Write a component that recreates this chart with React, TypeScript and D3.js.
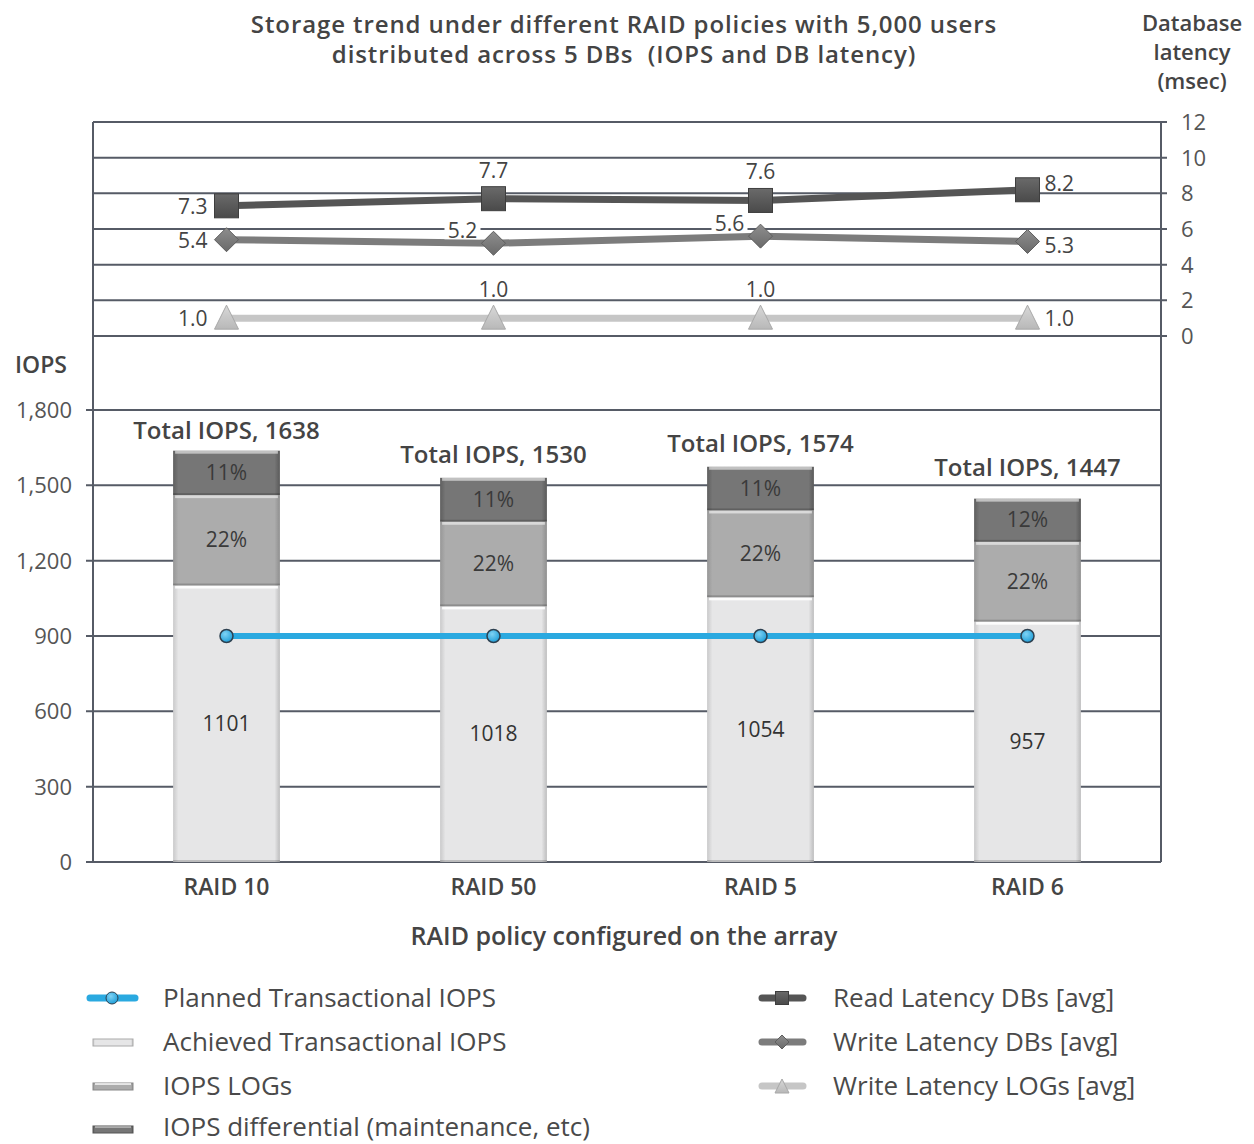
import React from "react";
import * as d3 from "d3";

const categories = ["RAID 10", "RAID 50", "RAID 5", "RAID 6"];
const achieved = [1101, 1018, 1054, 957];
const logsIops = [360, 337, 346, 318];
const differential = [177, 175, 174, 172];
const totals = [1638, 1530, 1574, 1447];
const logsPct = ["22%", "22%", "22%", "22%"];
const diffPct = ["11%", "11%", "11%", "12%"];
const planned = [900, 900, 900, 900];
const readLat = [7.3, 7.7, 7.6, 8.2];
const writeDbLat = [5.4, 5.2, 5.6, 5.3];
const writeLogLat = [1.0, 1.0, 1.0, 1.0];
const iopsTicks = [0, 300, 600, 900, 1200, 1500, 1800];
const latTicks = [0, 2, 4, 6, 8, 10, 12];
const readPlace = ["left", "above", "above", "rightUp"];
const writeDbPlace = ["left", "aboveLeft", "aboveLeft", "rightDown"];
const writeLogPlace = ["left", "above", "above", "right"];
const totalLabelGap = [12, 15, 15, 23];

const FONT = "'Open Sans', Lato, sans-serif";
const TXT = "#444";
const GRID = "#565b66";

export default function App() {
  const L = 93, R = 1161;
  const x = d3.scaleBand<string>().domain(categories).range([L, R]).padding(0);
  const cx = (c: string) => (x(c) as number) + x.bandwidth() / 2;
  const bw = x.bandwidth() * 0.4;
  const yI = d3.scaleLinear().domain([0, 1800]).range([862, 410]);
  const yL = d3.scaleLinear().domain([0, 12]).range([336, 122]);

  const stackData = categories.map((c, i) => ({ c, a: achieved[i], l: logsIops[i], d: differential[i] }));
  const stack = d3.stack<any>().keys(["a", "l", "d"])(stackData);
  const fills: Record<string, string> = { a: "url(#gA)", l: "url(#gL)", d: "url(#gD)" };

  const lineGen = (yv: (v: number) => number) =>
    d3.line<number>().x((_, i) => cx(categories[i])).y((v) => yv(v));

  const labelPos = (place: string, px: number, py: number) => {
    if (place === "left") return { x: px - 19, y: py + 8, anchor: "end" };
    if (place === "right") return { x: px + 17, y: py + 8, anchor: "start" };
    if (place === "rightUp") return { x: px + 17, y: py + 1, anchor: "start" };
    if (place === "rightDown") return { x: px + 17, y: py + 12, anchor: "start" };
    if (place === "aboveLeft") return { x: px - 31, y: py - 5, anchor: "middle" };
    return { x: px, y: py - 21, anchor: "middle" };
  };

  const latLabels = (vals: number[], places: string[], key: string) =>
    vals.map((v, i) => {
      const px = cx(categories[i]);
      const py = yL(v);
      const p = labelPos(places[i], px, py);
      const t = v.toFixed(1);
      const w = t.length * 10;
      const bx = p.anchor === "end" ? p.x - w : p.anchor === "start" ? p.x : p.x - w / 2;
      return (
        <g key={key + i}>
          <rect x={bx - 3} y={p.y - 16} width={w + 6} height={17} fill="#fff" />
          <text x={p.x} y={p.y} textAnchor={p.anchor} fontSize={21} fill={TXT} fontFamily={FONT}>
            {t}
          </text>
        </g>
      );
    });

  const square = (px: number, py: number, k: string, s = 24) => (
    <g key={k}>
      <rect x={px - s / 2} y={py - s / 2} width={s} height={s} fill="url(#gSq)" stroke="#3e3e3e" strokeWidth={1} />
    </g>
  );
  const diamond = (px: number, py: number, k: string, s = 12) => (
    <path key={k} d={`M${px},${py - s}L${px + s},${py}L${px},${py + s}L${px - s},${py}Z`} fill="url(#gDi)" stroke="#5e5e5e" strokeWidth={1} />
  );
  const triangle = (px: number, py: number, k: string, s = 12) => (
    <path key={k} d={`M${px},${py - s - 1}L${px + s},${py + s - 1}L${px - s},${py + s - 1}Z`} fill="url(#gTr)" stroke="#a8a8a8" strokeWidth={1} />
  );

  return (
    <div style={{ position: "absolute", left: 0, top: 0 }}>
      <svg width={1254} height={1144} style={{ display: "block", background: "#fff" }}>
        <defs>
          <linearGradient id="gA" x1="0" x2="1" y1="0" y2="0">
            <stop offset="0" stopColor="#c9c9ca" />
            <stop offset="0.05" stopColor="#e6e6e7" />
            <stop offset="0.95" stopColor="#e6e6e7" />
            <stop offset="1" stopColor="#bdbdbe" />
          </linearGradient>
          <linearGradient id="gL" x1="0" x2="1" y1="0" y2="0">
            <stop offset="0" stopColor="#979797" />
            <stop offset="0.05" stopColor="#acacac" />
            <stop offset="0.95" stopColor="#acacac" />
            <stop offset="1" stopColor="#8f8f8f" />
          </linearGradient>
          <linearGradient id="gD" x1="0" x2="1" y1="0" y2="0">
            <stop offset="0" stopColor="#5f5f5f" />
            <stop offset="0.05" stopColor="#767676" />
            <stop offset="0.95" stopColor="#767676" />
            <stop offset="1" stopColor="#5a5a5a" />
          </linearGradient>
          <linearGradient id="gSq" x1="0" x2="0" y1="0" y2="1">
            <stop offset="0" stopColor="#6a6a6a" />
            <stop offset="1" stopColor="#4a4a4a" />
          </linearGradient>
          <linearGradient id="gDi" x1="0" x2="0" y1="0" y2="1">
            <stop offset="0" stopColor="#8e8e8e" />
            <stop offset="1" stopColor="#6a6a6a" />
          </linearGradient>
          <linearGradient id="gTr" x1="0" x2="0" y1="0" y2="1">
            <stop offset="0" stopColor="#d8d8d8" />
            <stop offset="1" stopColor="#b8b8b8" />
          </linearGradient>
          <radialGradient id="gDot" cx="0.4" cy="0.35" r="0.7">
            <stop offset="0" stopColor="#7fd3f5" />
            <stop offset="1" stopColor="#1a9bd6" />
          </radialGradient>
        </defs>

        {/* Title */}
        <g fontFamily={FONT} fontWeight={600} fill={TXT} textAnchor="middle">
          <text x={624} y={33} fontSize={24} letterSpacing={0.9}>
            Storage trend under different RAID policies with 5,000 users
          </text>
          <text x={624} y={63} fontSize={24} letterSpacing={0.9} style={{ whiteSpace: "pre" }}>
            {"distributed across 5 DBs  (IOPS and DB latency)"}
          </text>
          {["Database", "latency", "(msec)"].map((t, i) => (
            <text key={t} x={1192} y={31 + i * 29} fontSize={22}>
              {t}
            </text>
          ))}
        </g>

        {/* Latency panel grid */}
        {latTicks.map((t) => (
          <g key={"lt" + t}>
            <line x1={L} x2={R + 6} y1={yL(t)} y2={yL(t)} stroke={GRID} strokeWidth={2} />
            <text x={1181} y={yL(t) + 8} fontSize={22} fill="#555" fontFamily={FONT}>
              {t}
            </text>
          </g>
        ))}
        <line x1={L} x2={L} y1={yL(12)} y2={yI(0)} stroke={GRID} strokeWidth={2} />
        <line x1={R} x2={R} y1={yL(12)} y2={yI(0)} stroke={GRID} strokeWidth={2} />

        {/* IOPS grid */}
        {iopsTicks.map((t) => (
          <g key={"it" + t}>
            <line x1={L - 7} x2={R} y1={yI(t)} y2={yI(t)} stroke={GRID} strokeWidth={2} />
            <text x={72} y={yI(t) + 8} textAnchor="end" fontSize={22} fill="#555" fontFamily={FONT}>
              {d3.format(",")(t)}
            </text>
          </g>
        ))}
        <text x={41} y={373} textAnchor="middle" fontSize={23} fontWeight={600} fill={TXT} fontFamily={FONT}>
          IOPS
        </text>

        {/* Stacked bars */}
        {stack.map((layer) =>
          layer.map((seg, i) => {
            const c = categories[i];
            const y0 = yI(seg[0]);
            const y1 = yI(seg[1]);
            const bx = cx(c) - bw / 2;
            return (
              <g key={layer.key + c}>
                <rect x={bx} y={y1} width={bw} height={y0 - y1} fill={fills[layer.key]} />
                <rect x={bx + 2} y={y1} width={bw - 4} height={3} fill="#fff" opacity={layer.key === "a" ? 0.9 : 0.55} />
                <rect x={bx} y={y0 - 2} width={bw} height={2} fill="#000" opacity={0.18} />
              </g>
            );
          })
        )}

        {/* Bar labels */}
        {categories.map((c, i) => {
          const xc = cx(c);
          const a0 = yI(0), a1 = yI(achieved[i]);
          const l1 = yI(achieved[i] + logsIops[i]);
          const d1 = yI(totals[i]);
          return (
            <g key={"bl" + c} fontFamily={FONT} textAnchor="middle">
              <text x={xc} y={(a0 + a1) / 2 + 7} fontSize={21} fill="#333">{achieved[i]}</text>
              <text x={xc} y={(a1 + l1) / 2 + 7} fontSize={21} fill="#3a3a3a">{logsPct[i]}</text>
              <text x={xc} y={(l1 + d1) / 2 + 7} fontSize={21} fill="#3a3a3a">{diffPct[i]}</text>
              <text x={xc} y={d1 - totalLabelGap[i]} fontSize={24} fontWeight={600} fill={TXT}>{`Total IOPS, ${totals[i]}`}</text>
              <text x={xc} y={895} fontSize={23} fontWeight={600} fill={TXT}>{c}</text>
            </g>
          );
        })}

        {/* Planned IOPS line */}
        <path d={lineGen(yI)(planned) as string} fill="none" stroke="#2aa9e0" strokeWidth={6} />
        {planned.map((v, i) => (
          <circle key={"pd" + i} cx={cx(categories[i])} cy={yI(v)} r={6.5} fill="url(#gDot)" stroke="#2d4050" strokeWidth={1.5} />
        ))}

        {/* Latency lines */}
        <path d={lineGen(yL)(writeLogLat) as string} fill="none" stroke="#c6c6c6" strokeWidth={7} />
        <path d={lineGen(yL)(writeDbLat) as string} fill="none" stroke="#7c7c7c" strokeWidth={7} />
        <path d={lineGen(yL)(readLat) as string} fill="none" stroke="#555" strokeWidth={7} />
        {latLabels(readLat, readPlace, "rl")}
        {latLabels(writeDbLat, writeDbPlace, "wl")}
        {latLabels(writeLogLat, writeLogPlace, "ll")}
        {writeLogLat.map((v, i) => triangle(cx(categories[i]), yL(v), "tr" + i))}
        {writeDbLat.map((v, i) => diamond(cx(categories[i]), yL(v), "di" + i))}
        {readLat.map((v, i) => square(cx(categories[i]), yL(v), "sq" + i))}

        {/* X axis title */}
        <text x={624} y={945} textAnchor="middle" fontSize={25} fontWeight={600} fill={TXT} fontFamily={FONT}>
          RAID policy configured on the array
        </text>

        {/* Legend left */}
        <g fontFamily={FONT} fontSize={26} fill="#4a4a4a">
          <line x1={90} x2={135} y1={998} y2={998} stroke="#2aa9e0" strokeWidth={7} strokeLinecap="round" />
          <circle cx={112} cy={998} r={6} fill="url(#gDot)" stroke="#2d4050" strokeWidth={1} />
          <text x={163} y={1007}>Planned Transactional IOPS</text>

          <rect x={93} y={1039} width={40} height={7} fill="url(#gA)" stroke="#aaa" strokeWidth={1} />
          <text x={163} y={1051}>Achieved Transactional IOPS</text>

          <rect x={93} y={1083} width={40} height={7} fill="url(#gL)" stroke="#888" strokeWidth={1} />
          <rect x={95} y={1083} width={36} height={2} fill="#fff" opacity={0.7} />
          <text x={163} y={1095}>IOPS LOGs</text>

          <rect x={93} y={1126} width={40} height={7} fill="url(#gD)" stroke="#555" strokeWidth={1} />
          <rect x={95} y={1126} width={36} height={2} fill="#fff" opacity={0.4} />
          <text x={163} y={1136}>IOPS differential (maintenance, etc)</text>
        </g>

        {/* Legend right */}
        <g fontFamily={FONT} fontSize={26} fill="#4a4a4a">
          <line x1={762} x2={803} y1={998} y2={998} stroke="#555" strokeWidth={7} strokeLinecap="round" />
          {square(782, 998, "lsq", 13)}
          <text x={833} y={1007}>Read Latency DBs [avg]</text>

          <line x1={762} x2={803} y1={1042} y2={1042} stroke="#7c7c7c" strokeWidth={7} strokeLinecap="round" />
          {diamond(782, 1042, "ldi", 7)}
          <text x={833} y={1051}>Write Latency DBs [avg]</text>

          <line x1={762} x2={803} y1={1086} y2={1086} stroke="#c6c6c6" strokeWidth={7} strokeLinecap="round" />
          {triangle(782, 1087, "ltr", 7)}
          <text x={833} y={1095}>Write Latency LOGs [avg]</text>
        </g>
      </svg>
    </div>
  );
}
